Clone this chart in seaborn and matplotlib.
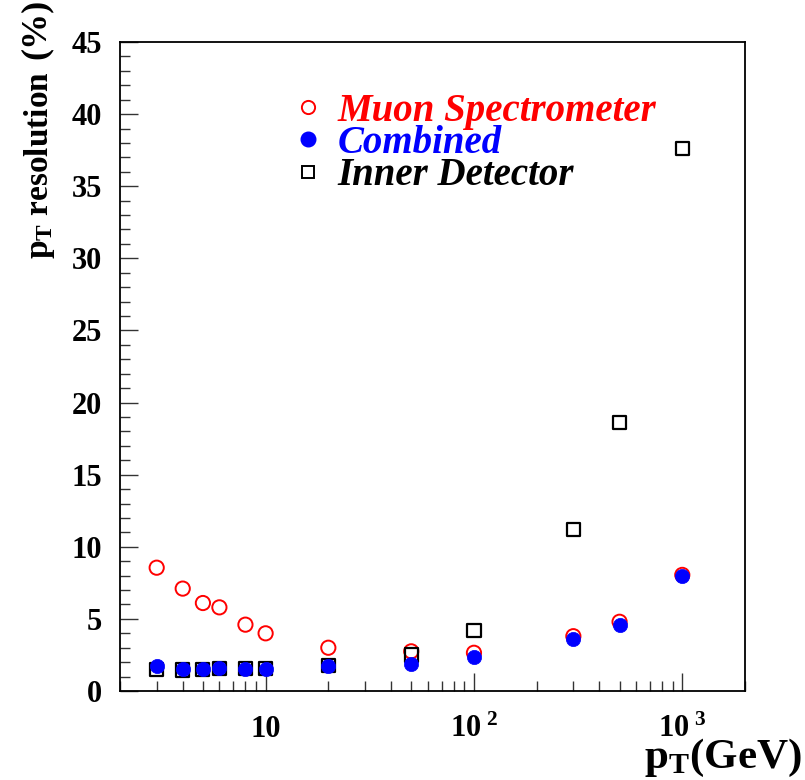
import numpy as np
import pandas as pd
import matplotlib
matplotlib.use('Agg')
import matplotlib.pyplot as plt
from matplotlib.lines import Line2D
from matplotlib.ticker import FixedLocator, NullFormatter, MultipleLocator
import seaborn as sns

# data
pt = [3, 4, 5, 6, 8, 10, 20, 50, 100, 300, 500, 1000]
muon_spec = [8.55, 7.1, 6.1, 5.8, 4.6, 4.0, 3.0, 2.75, 2.65, 3.8, 4.8, 8.05]
combined = [1.7, 1.5, 1.55, 1.57, 1.55, 1.53, 1.7, 1.87, 2.38, 3.63, 4.58, 8.0]
inner_det = [1.5, 1.45, 1.5, 1.55, 1.55, 1.55, 1.78, 2.5, 4.2, 11.2, 18.6, 37.6]

series_names = ['Muon Spectrometer', 'Combined', 'Inner Detector']
x_ticks = [10, 100, 1000]
x_ticklabels = ['10', r'$\mathrm{10^{\ 2}}$', r'$\mathrm{10^{\ 3}}$']
y_ticks = list(range(0, 50, 5))

sns.set_style('white')
plt.rcParams['font.family'] = ['Liberation Serif', 'DejaVu Serif']
plt.rcParams['font.weight'] = 'bold'
plt.rcParams['mathtext.fontset'] = 'custom'
plt.rcParams['mathtext.rm'] = 'Liberation Serif:bold'
plt.rcParams['mathtext.it'] = 'Liberation Serif:bold:italic'
plt.rcParams['mathtext.bf'] = 'Liberation Serif:bold'
plt.rcParams['text.color'] = 'black'
plt.rcParams['xtick.color'] = 'black'
plt.rcParams['ytick.color'] = 'black'

fig = plt.figure(figsize=(8.05, 7.8), dpi=100)
ax = fig.add_axes([120 / 805, 1 - 691 / 780, 625 / 805, 649 / 780])

df = pd.DataFrame({'pt': pt, 'ms': muon_spec, 'comb': combined, 'id': inner_det})

sns.scatterplot(data=df, x='pt', y='ms', marker='o', s=105, facecolors='none',
                edgecolor='red', linewidth=1.4, ax=ax, zorder=3)
sns.scatterplot(data=df, x='pt', y='id', marker='s', s=90, facecolors='none',
                edgecolor='black', linewidth=1.6, ax=ax, zorder=4)
sns.scatterplot(data=df, x='pt', y='comb', marker='o', s=105, color='blue',
                edgecolor='blue', linewidth=0.5, ax=ax, zorder=5)

ax.set_xscale('log')
ax.set_xlim(2, 2000)
ax.set_ylim(0, 45)
ax.set_xlabel('')
ax.set_ylabel('')

ax.xaxis.set_major_locator(FixedLocator(x_ticks))
ax.set_xticklabels(x_ticklabels)
minor = [m * 10 ** e for e in range(0, 4) for m in range(2, 10) if 2 <= m * 10 ** e <= 2000]
ax.xaxis.set_minor_locator(FixedLocator(minor))
ax.xaxis.set_minor_formatter(NullFormatter())
ax.set_yticks(y_ticks)
ax.yaxis.set_minor_locator(MultipleLocator(1))

ax.tick_params(axis='both', which='both', direction='in', top=False, right=False,
               bottom=True, left=True, labelsize=22, width=1.0, color='#333333',
               labelcolor='black')
ax.tick_params(axis='both', which='major', length=13)
ax.tick_params(axis='both', which='minor', length=7)
ax.tick_params(axis='x', which='major', pad=17)
ax.tick_params(axis='y', which='major', pad=13)
for lab in ax.get_xticklabels() + ax.get_yticklabels():
    lab.set_fontweight('bold')

for sp in ax.spines.values():
    sp.set_color('black')
    sp.set_linewidth(1.3)

handles = [
    Line2D([], [], marker='o', ls='none', markersize=9.5, markerfacecolor='none',
           markeredgecolor='red', markeredgewidth=1.4),
    Line2D([], [], marker='o', ls='none', markersize=10.5, markerfacecolor='blue',
           markeredgecolor='blue'),
    Line2D([], [], marker='s', ls='none', markersize=9, markerfacecolor='none',
           markeredgecolor='black', markeredgewidth=1.4),
]
leg = ax.legend(handles, series_names, loc='upper left', bbox_to_anchor=(0.2195, 0.976),
                frameon=False, handletextpad=0.37, labelspacing=-0.12, handlelength=0.8,
                borderpad=0.4,
                prop={'family': 'Liberation Serif', 'weight': 'bold', 'style': 'italic',
                      'size': 28})
for txt, c in zip(leg.get_texts(), ['red', 'blue', 'black']):
    txt.set_color(c)

fig.text(40 / 805, 1 - 165 / 780, r'$\mathrm{p_T}$ resolution', rotation=90,
         fontsize=24, fontweight='bold', ha='center', va='center')
fig.text(36 / 805, 1 - 29 / 780, '(%)', rotation=90, fontsize=26,
         fontweight='bold', ha='center', va='center')
fig.text(802 / 805, 1 - 779 / 780, r'$\mathrm{p_T}$(GeV)', fontsize=31,
         fontweight='bold', ha='right', va='bottom')

fig.savefig('out.png', dpi=100)
